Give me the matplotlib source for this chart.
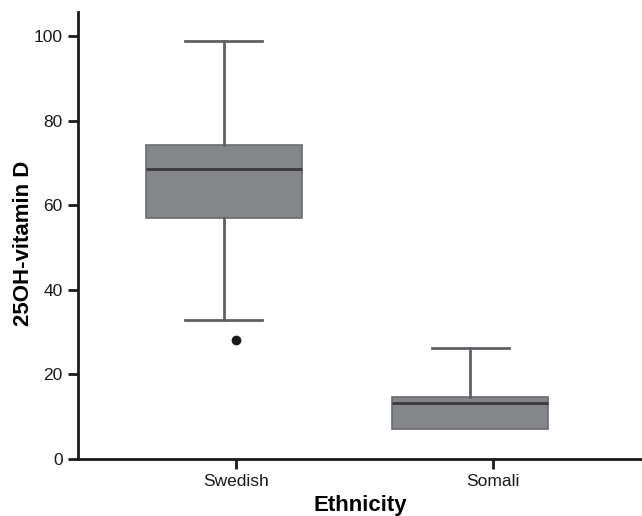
import matplotlib
matplotlib.use('Agg')
import matplotlib.pyplot as plt

plt.rcParams['font.family'] = ['Liberation Sans', 'DejaVu Sans']

groups = ['Swedish', 'Somali']
whislo = [32.9, 7.1]
q1 = [57.0, 7.1]
med = [68.6, 13.2]
q3 = [74.2, 14.7]
whishi = [98.8, 26.2]
fliers = [[28.1], []]

stats = []
for i in range(len(groups)):
    stats.append({'label': groups[i], 'whislo': whislo[i], 'q1': q1[i], 'med': med[i],
                  'q3': q3[i], 'whishi': whishi[i], 'fliers': []})

fig = plt.figure(figsize=(6.42, 5.16), dpi=100)
ax = fig.add_axes([0.1215, 0.1105, 0.8785, 0.866])

# boxes sit a little left of their ticks in the original
box_pos = [1 - 0.047, 2 - 0.089]
res = ax.bxp(stats, positions=box_pos, widths=0.607, capwidths=0.30, patch_artist=True,
             manage_ticks=False,
             boxprops=dict(facecolor='#858689', edgecolor='#6a6b6e', linewidth=1.2),
             medianprops=dict(color='#3a3a3c', linewidth=2),
             whiskerprops=dict(color='#5f6063', linewidth=2),
             capprops=dict(color='#5f6063', linewidth=2))
# Somali lower whisker has zero length, no cap visible
if whislo[1] == q1[1]:
    res['caps'][2].set_visible(False)

for i, fl in enumerate(fliers):
    ax.plot([i + 1] * len(fl), fl, 'o', color='#1a1a1a', markersize=6)

ax.set_xticks([1, 2])
ax.set_xticklabels(groups)
ax.set_xlim(0.385, 2.58)
ax.set_ylim(0, 105.7)
ax.set_yticks([0, 20, 40, 60, 80, 100])
ax.spines['top'].set_visible(False)
ax.spines['right'].set_visible(False)
ax.spines['left'].set_linewidth(2)
ax.spines['bottom'].set_linewidth(2)
ax.spines['left'].set_color('#1a1a1a')
ax.spines['bottom'].set_color('#1a1a1a')
ax.tick_params(axis='both', width=2, length=7, labelsize=12.5, colors='#1a1a1a', pad=4)
ax.set_ylabel('25OH-vitamin D', fontsize=16, fontweight='bold')
ax.yaxis.set_label_coords(-0.078, 0.482)
ax.set_xlabel('Ethnicity', fontsize=16, fontweight='bold', labelpad=4)

fig.savefig('out.png', dpi=100)
